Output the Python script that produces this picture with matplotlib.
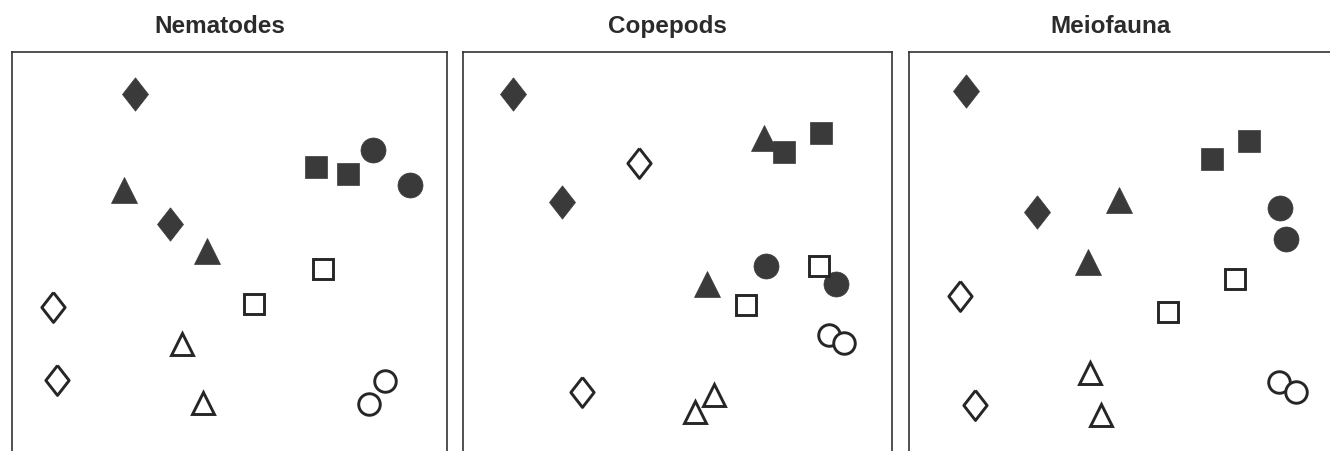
import matplotlib
matplotlib.use("Agg")
import matplotlib.pyplot as plt
from matplotlib.markers import MarkerStyle

# MDS ordinations, two stations per group, 8 groups per panel
titles = ["Nematodes", "Copepods", "Meiofauna"]
groups = ["diamond_f", "triangle_f", "square_f", "circle_f",
          "square_o", "diamond_o", "triangle_o", "circle_o"]

nem_x = [1.23, 1.58, 1.12, 1.95, 3.04, 3.36, 3.61, 3.98,
         2.42, 3.11, 0.41, 0.45, 1.70, 1.91, 3.73, 3.57]
nem_y = [3.57, 2.27, 2.61, 2.00, 2.84, 2.77, 3.01, 2.66,
         1.47, 1.82, 1.44, 0.71, 1.07, 0.48, 0.70, 0.47]

cop_x = [0.50, 0.99, 3.01, 2.44, 3.21, 3.58, 3.03, 3.73,
         3.56, 2.83, 1.76, 1.19, 2.51, 2.32, 3.66, 3.81]
cop_y = [3.57, 2.49, 3.13, 1.67, 2.99, 3.18, 1.85, 1.67,
         1.85, 1.46, 2.88, 0.59, 0.56, 0.39, 1.16, 1.08]

mei_x = [0.57, 1.28, 2.10, 1.79, 3.03, 3.40, 3.71, 3.77,
         3.26, 2.59, 0.51, 0.66, 1.81, 1.92, 3.70, 3.87]
mei_y = [3.60, 2.39, 2.51, 1.89, 2.92, 3.10, 2.43, 2.12,
         1.72, 1.39, 1.55, 0.46, 0.78, 0.36, 0.69, 0.59]

panel_x = [nem_x, cop_x, mei_x]
panel_y = [nem_y, cop_y, mei_y]

dark = "#3a3a3a"
edge = "#262626"
diamond = [(0, 1), (0.78, 0), (0, -1), (-0.78, 0), (0, 1)]

# marker, size (pt), filled
styles = {
    "diamond_f": (diamond, 24.0, True),
    "triangle_f": ("^", 19.0, True),
    "square_f": ("s", 16.0, True),
    "circle_f": ("o", 18.0, True),
    "square_o": ("s", 14.0, False),
    "diamond_o": (diamond, 21.5, False),
    "triangle_o": ("^", 16.5, False),
    "circle_o": ("o", 15.5, False),
}

W, H = 1330, 451
fig = plt.figure(figsize=(W / 100, H / 100), dpi=100)

# axes boxes in pixels: left, top, width
boxes = [(12, 51.5, 435), (463, 51.5, 429), (909, 51.5, 432)]
title_x = [220, 667, 1111]

for i, (left, top, width) in enumerate(boxes):
    height = H - top
    ax = fig.add_axes([left / W, 0, width / W, height / H])
    ax.set_xlim(0, width / 100)
    ax.set_ylim(0, height / 100)
    ax.set_xticks([])
    ax.set_yticks([])
    for side, sp in ax.spines.items():
        sp.set_color("#333333")
        sp.set_linewidth(1.2)
    ax.spines["bottom"].set_visible(False)

    xs, ys = panel_x[i], panel_y[i]
    for g, name in enumerate(groups):
        mk, ms, filled = styles[name]
        m = MarkerStyle(mk, joinstyle="miter")
        ax.plot(xs[2 * g:2 * g + 2], ys[2 * g:2 * g + 2], linestyle="none",
                marker=m, markersize=ms,
                markerfacecolor=dark if filled else "white",
                markeredgecolor=dark if filled else edge,
                markeredgewidth=0.5 if filled else 2.1,
                clip_on=False)

    fig.text(title_x[i] / W, 1 - 33 / H, titles[i], ha="center", va="baseline",
             fontsize=17.5, fontweight="bold", family="Liberation Sans",
             color="#2b2b2b")

fig.savefig("out.png", dpi=100, facecolor="white")
